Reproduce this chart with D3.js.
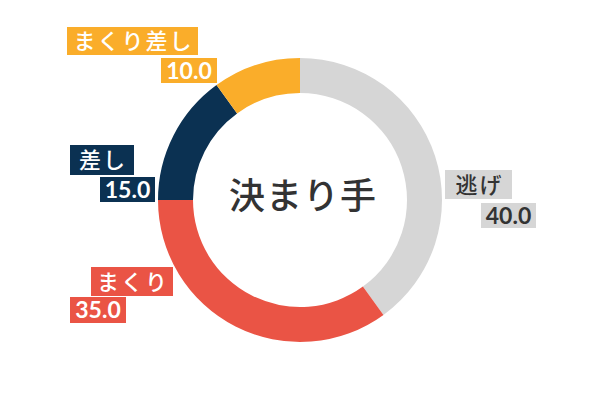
<!DOCTYPE html>
<html><head><meta charset="utf-8">
<script src="https://cdn.jsdelivr.net/npm/d3@7"></script>
<style>html,body{margin:0;padding:0;background:#fff;}</style>
</head><body>
<svg id="chart" width="600" height="400"></svg>
<script>
const categories = ["逃げ", "まくり", "差し", "まくり差し"];
const values = [40.0, 35.0, 15.0, 10.0];
const colors = ["#d6d6d6", "#ea5445", "#0b3152", "#faad2a"];
const textColors = ["#333333", "#ffffff", "#ffffff", "#ffffff"];
const centerTitle = "決まり手";

// label layout (offsets from chart centre): name box and value box [x, y, w, h]
const labelLayout = [
  {name: [145, -30, 67, 29], value: [181, 3, 55, 25]},
  {name: [-209, 67, 82, 29], value: [-230, 97, 56, 26]},
  {name: [-230, -55, 64, 30], value: [-200, -23, 55, 25]},
  {name: [-233, -173, 131, 28], value: [-139, -142, 56, 25]}
];

const W = 600, H = 400, cx = 300, cy = 200;
const outerR = 142, innerR = 107;
const svg = d3.select("#chart");
const g = svg.append("g").attr("transform", `translate(${cx},${cy})`);

const data = categories.map((c, i) => ({name: c, value: values[i], color: colors[i], tc: textColors[i], i}));
const pie = d3.pie().sort(null).value(d => d.value).startAngle(0).endAngle(2 * Math.PI);
const arc = d3.arc().innerRadius(innerR).outerRadius(outerR);

g.selectAll("path.slice").data(pie(data)).enter().append("path")
  .attr("class", "slice")
  .attr("d", arc)
  .attr("fill", d => d.data.color);

g.append("text")
  .attr("x", 3).attr("y", 9)
  .attr("text-anchor", "middle")
  .attr("font-family", "'Noto Sans CJK JP', sans-serif")
  .attr("font-size", 36)
  .attr("font-weight", 500)
  .attr("letter-spacing", 1)
  .attr("fill", "#333333")
  .text(centerTitle);

const labels = g.selectAll("g.lbl").data(data).enter().append("g").attr("class", "lbl");
labels.each(function(d) {
  const L = labelLayout[d.i];
  const sel = d3.select(this);
  const n = L.name, v = L.value;
  sel.append("rect").attr("x", n[0]).attr("y", n[1]).attr("width", n[2]).attr("height", n[3]).attr("fill", d.color);
  sel.append("text")
    .attr("x", n[0] + n[2] / 2 + 1).attr("y", n[1] + n[3] / 2 + 8)
    .attr("text-anchor", "middle")
    .attr("font-family", "'Noto Sans CJK JP', sans-serif")
    .attr("font-size", 22)
    .attr("font-weight", 500)
    .attr("letter-spacing", 2)
    .attr("fill", d.tc)
    .text(d.name);
  sel.append("rect").attr("x", v[0]).attr("y", v[1]).attr("width", v[2]).attr("height", v[3]).attr("fill", d.color);
  sel.append("text")
    .attr("x", v[0] + v[2] / 2).attr("y", v[1] + v[3] / 2 + 8)
    .attr("text-anchor", "middle")
    .attr("font-family", "Lato, sans-serif")
    .attr("font-size", 23)
    .attr("font-weight", "bold")
    .attr("fill", d.tc)
    .text(d.value.toFixed(1));
});
</script>
</body></html>
